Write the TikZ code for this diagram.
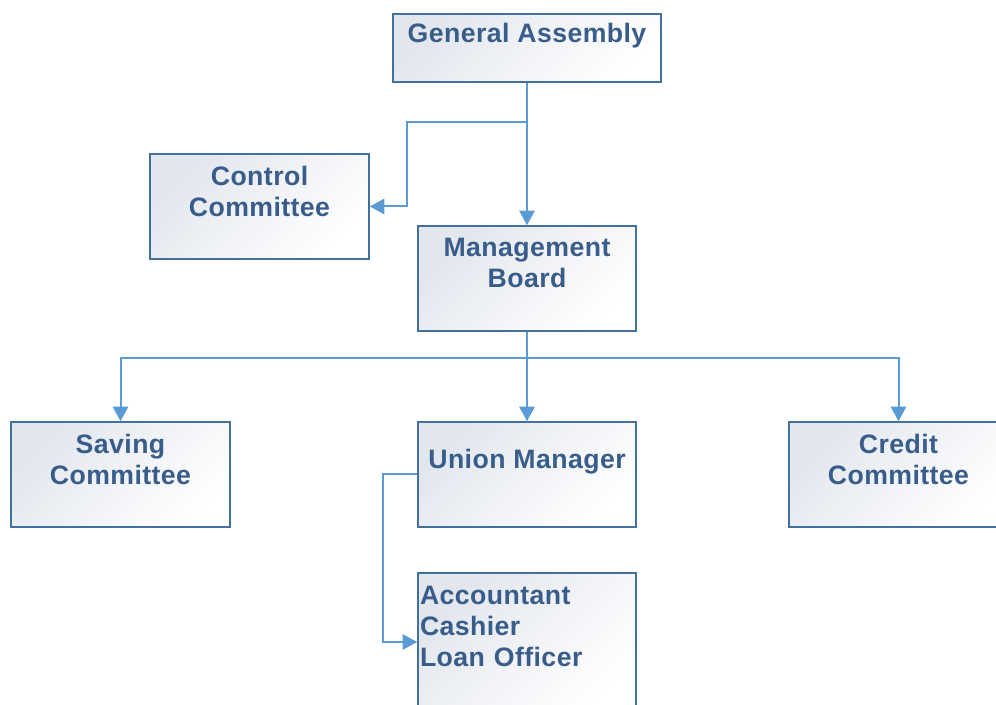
\documentclass[tikz,border=0pt]{standalone}
\usepackage{fontspec}
\setmainfont[LetterSpace=1.6]{Liberation Sans}
\usetikzlibrary{arrows.meta}
\definecolor{boxline}{RGB}{65,113,156}
\definecolor{boxtext}{RGB}{56,93,138}
\definecolor{linkblue}{RGB}{91,155,213}
\definecolor{boxshade}{RGB}{226,230,237}
\begin{document}
\begin{tikzpicture}[x=0.75pt, y=-0.75pt, every node/.style={ draw=boxline, line width=1.1pt, top color=boxshade, bottom color=white, shading angle=45, inner sep=0pt, align=center, text=boxtext, font=\fontsize{20}{23.25}\selectfont\bfseries },
		link/.style={ draw=linkblue, line width=1.5pt },
		tip/.style={ -{Triangle[length=11pt,width=11.5pt]} } ]
			\clip (0,0) rectangle (996,705);
			\node[minimum width=201pt, minimum height=51pt] (ga) at (527,48) {General Assembly\\\mbox{}};
			\node[minimum width=164.25pt, minimum height=78.75pt] (control) at (259.5,206.5) {Control\\Committee\\\mbox{}};
			\node[minimum width=163.5pt, minimum height=78.75pt] (board) at (527,278.5) {Management\\Board\\\mbox{}};% one blank line under each text

			\node[minimum width=164.25pt, minimum height=78.75pt] (saving) at (120.5,474.5) {Saving\\Committee\\\mbox{}};
			\node[minimum width=163.5pt, minimum height=78.75pt] (manager) at (527,474.5) {Union Manager\\\mbox{}};
			\node[minimum width=164.25pt, minimum height=78.75pt] (credit) at (898.5,474.5) {Credit\\Committee\\\mbox{}};
			\node[minimum width=163.5pt, minimum height=103.5pt, inner xsep=1.5pt, text width=160.5pt, align=left] (staff) at (527,642) {Accountant\\Cashier\\Loan Officer\\\mbox{}};

			\coordinate (split) at (527,122);
			\coordinate (bus) at (527,358);

			\draw[link, tip] (ga.south) -- (board.north);
			\draw[link, tip] (split) -- (407,122) |- (control.east);
			\draw[link, tip] (board.south) -- (manager.north);
			\draw[link, {Triangle[length=11pt,width=11.5pt]}-{Triangle[length=11pt,width=11.5pt]}] (saving.north) |- (bus) -| (credit.north);
			\draw[link, tip] (manager.west) -- (383,474.5) |- (staff.west);
		\end{tikzpicture}
\end{document}
